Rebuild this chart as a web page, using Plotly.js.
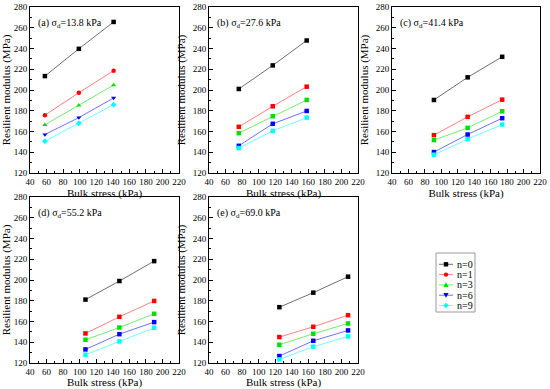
<!DOCTYPE html>
<html>
<head>
<meta charset="utf-8">
<script src="https://cdn.plot.ly/plotly-3.0.1.min.js"></script>
<style>html,body{margin:0;padding:0;background:#fff;}#chart{width:550px;height:389px;}</style>
</head>
<body>
<div id="chart"></div>
<script>
// ---- data ----
const seriesNames = ['n=0', 'n=1', 'n=3', 'n=6', 'n=9'];
const panelLabels = ['(a) σ<sub>d</sub>=13.8 kPa', '(b) σ<sub>d</sub>=27.6 kPa', '(c) σ<sub>d</sub>=41.4 kPa', '(d) σ<sub>d</sub>=55.2 kPa', '(e) σ<sub>d</sub>=69.0 kPa'];

const bulkA = [58, 99, 141];
const bulkB = [76, 117, 158];
const bulkC = [91, 132, 174];
const bulkD = [107, 148, 190];
const bulkE = [125, 166, 208];

// resilient modulus (MPa), one row per n = 0, 1, 3, 6, 9
const mrA = [[213.4, 239.7, 265.6], [175.7, 197.4, 218.6], [166.4, 185.3, 204.8], [157.1, 173.4, 192.3], [150.7, 168.0, 185.9]];
const mrB = [[201.0, 223.7, 247.7], [164.5, 184.3, 203.2], [158.4, 174.7, 190.4], [146.2, 167.4, 179.8], [144.0, 160.6, 173.4]];
const mrC = [[190.4, 212.2, 232.0], [156.5, 174.1, 190.7], [151.7, 163.5, 179.5], [140.2, 157.1, 172.8], [137.6, 152.6, 166.7]];
const mrD = [[181.1, 199.0, 218.2], [148.5, 164.5, 179.8], [142.4, 154.2, 167.4], [133.1, 147.8, 159.4], [128.0, 140.8, 153.9]];
const mrE = [[173.8, 187.8, 203.2], [145.0, 154.9, 166.1], [137.6, 148.2, 158.1], [126.7, 141.4, 151.4], [123.5, 135.7, 145.6]];

const xTitle = 'Bulk stress (kPa)';
const yTitle = 'Resilient modulus (MPa)';

// ---- styling ----
const markerColors = ['#000000', '#ff0000', '#00e000', '#0000ff', '#00ffff'];
const lineColors = ['#707070', '#ff8080', '#70ee70', '#7070ff', '#70ffff'];
const symbolsA = ['square', 'circle', 'triangle-up', 'triangle-down', 'diamond'];

const panels = [
  {x: bulkA, y: mrA, dx: [30, 179], dy: [7, 173], sym: symbolsA},
  {x: bulkB, y: mrB, dx: [209, 358], dy: [7, 173]},
  {x: bulkC, y: mrC, dx: [392, 540], dy: [7, 173]},
  {x: bulkD, y: mrD, dx: [30, 179], dy: [197, 363]},
  {x: bulkE, y: mrE, dx: [209, 358], dy: [197, 363]}
];

const W = 550, H = 389;
const FONT = "'Liberation Serif', 'Times New Roman', serif";
const traces = [];
const layout = {
  width: W, height: H,
  margin: {l: 0, r: 0, t: 0, b: 0},
  paper_bgcolor: '#fff', plot_bgcolor: '#fff',
  font: {family: FONT, size: 9, color: '#000'},
  showlegend: false,
  annotations: [],
  shapes: []
};

panels.forEach((p, i) => {
  const k = i + 1;
  const xa = 'x' + (k === 1 ? '' : k), ya = 'y' + (k === 1 ? '' : k);
  p.y.forEach((vals, s) => {
    traces.push({
      type: 'scatter', mode: 'lines+markers',
      x: p.x, y: vals, xaxis: xa, yaxis: ya,
      name: seriesNames[s],
      line: {color: lineColors[s], width: 1},
      marker: {color: markerColors[s], symbol: p.sym ? p.sym[s] : 'square', size: 4.5, line: {width: 0}},
      cliponaxis: false
    });
  });
  const axCommon = {
    showline: true, linecolor: '#000', linewidth: 1, mirror: true,
    ticks: 'inside', ticklen: 4, tickwidth: 1, tickcolor: '#000',
    showgrid: false, zeroline: false,
    tickfont: {family: FONT, size: 9, color: '#000'},
    automargin: false, fixedrange: true
  };
  const minor = {ticks: 'inside', ticklen: 2, tickcolor: '#000', showgrid: false, dtick: 10};
  layout['xaxis' + (k === 1 ? '' : k)] = Object.assign({}, axCommon, {
    domain: [p.dx[0] / W, p.dx[1] / W],
    anchor: ya, range: [40, 220], dtick: 20, tick0: 40, minor: minor,
    title: {text: xTitle, font: {family: FONT, size: 11, color: '#000'}, standoff: 2}
  });
  layout['yaxis' + (k === 1 ? '' : k)] = Object.assign({}, axCommon, {
    domain: [1 - p.dy[1] / H, 1 - p.dy[0] / H],
    anchor: xa, range: [120, 280], dtick: 20, tick0: 120, minor: minor,
    title: {text: yTitle, font: {family: FONT, size: 11, color: '#000'}, standoff: 4}
  });
  layout.annotations.push({
    text: panelLabels[i], xref: xa + ' domain', yref: ya + ' domain',
    x: 0.04, y: 0.9, xanchor: 'left', yanchor: 'middle', showarrow: false,
    font: {family: FONT, size: 10, color: '#000'}
  });
});

// ---- compact legend box (drawn with layout shapes + text annotations) ----
const LG = {x0: 436, x1: 475, y0: 253, y1: 312, row0: 264.3, rowStep: 10.3, lineX0: 439, lineX1: 453, mX: 446, textX: 455, m: 2.2};
const px = v => v / W, py = v => 1 - v / H;
layout.shapes.push({type: 'rect', xref: 'paper', yref: 'paper', x0: px(LG.x0), x1: px(LG.x1), y0: py(LG.y1), y1: py(LG.y0),
  line: {color: '#9a9a9a', width: 1}, fillcolor: '#fff', layer: 'above'});
function markerShape(sym, cx, cy, color) {
  const m = LG.m;
  const base = {xref: 'paper', yref: 'paper', fillcolor: color, line: {width: 0}, layer: 'above'};
  if (sym === 'square') return Object.assign(base, {type: 'rect', x0: px(cx - m), x1: px(cx + m), y0: py(cy + m), y1: py(cy - m)});
  if (sym === 'circle') return Object.assign(base, {type: 'circle', x0: px(cx - m), x1: px(cx + m), y0: py(cy + m), y1: py(cy - m)});
  let pts;
  if (sym === 'triangle-up') pts = [[cx, cy - m * 1.2], [cx + m * 1.2, cy + m], [cx - m * 1.2, cy + m]];
  else if (sym === 'triangle-down') pts = [[cx, cy + m * 1.2], [cx + m * 1.2, cy - m], [cx - m * 1.2, cy - m]];
  else pts = [[cx, cy - m * 1.3], [cx + m * 1.3, cy], [cx, cy + m * 1.3], [cx - m * 1.3, cy]];
  const path = 'M' + pts.map(q => px(q[0]) + ',' + py(q[1])).join('L') + 'Z';
  return Object.assign(base, {type: 'path', path: path});
}
seriesNames.forEach((name, s) => {
  const cy = LG.row0 + s * LG.rowStep;
  layout.shapes.push({type: 'line', xref: 'paper', yref: 'paper', x0: px(LG.lineX0), x1: px(LG.lineX1), y0: py(cy), y1: py(cy),
    line: {color: lineColors[s], width: 1}, layer: 'above'});
  layout.shapes.push(markerShape(symbolsA[s], LG.mX, cy, markerColors[s]));
  layout.annotations.push({text: name, xref: 'paper', yref: 'paper', x: px(LG.textX), y: py(cy),
    xanchor: 'left', yanchor: 'middle', showarrow: false, font: {family: FONT, size: 10, color: '#000'}});
});

Plotly.newPlot('chart', traces, layout, {displayModeBar: false, staticPlot: true});
</script>
</body>
</html>
